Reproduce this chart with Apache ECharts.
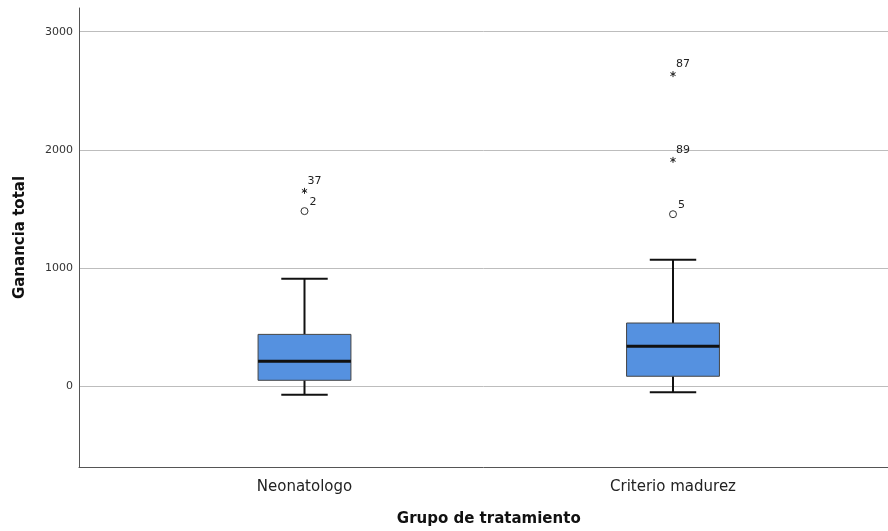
<!DOCTYPE html>
<html>
<head>
<meta charset="utf-8">
<script src="https://cdn.jsdelivr.net/npm/echarts@6/dist/echarts.min.js"></script>
<style>html,body{margin:0;padding:0;background:#fff}#c{width:888px;height:531px}</style>
</head>
<body>
<div id="c"></div>
<script>
const categories = ['Neonatologo', 'Criterio madurez'];
const whiskerLow = [-70, -48];
const q1 = [53, 87];
const median = [214, 340];
const q3 = [441, 537];
const whiskerHigh = [911, 1072];
const outlierCircles = [[0, 1483, '2'], [1, 1457, '5']];
const outlierStars = [[0, 1654, '37'], [1, 2641, '87'], [1, 1916, '89']];
const yTicks = [0, 1000, 2000, 3000];

const FONT = '"DejaVu Sans", sans-serif';
const boxData = categories.map((c, i) => [i, whiskerLow[i], q1[i], median[i], q3[i], whiskerHigh[i]]);

const chart = echarts.init(document.getElementById('c'), null, {renderer: 'canvas'});
chart.setOption({
  animation: false,
  backgroundColor: '#fff',
  grid: [
    {left: 79, right: 0, top: 8, bottom: 64, containLabel: false, outerBoundsMode: 'none'},
    {left: 120.25, right: 30.75, top: 8, bottom: 64, containLabel: false, outerBoundsMode: 'none'}
  ],
  xAxis: [
    {gridIndex: 0, type: 'value', min: 0, max: 1, position: 'bottom',
     axisLine: {show: true, onZero: false, lineStyle: {color: '#555', width: 1}},
     axisTick: {show: false}, axisLabel: {show: false}, splitLine: {show: false}},
    {gridIndex: 1, type: 'category', data: categories, position: 'bottom',
     axisLine: {show: false, onZero: false}, axisTick: {show: false},
     axisLabel: {fontFamily: FONT, fontSize: 15, color: '#222', margin: 13},
     name: 'Grupo de tratamiento', nameLocation: 'middle', nameGap: 45,
     nameTextStyle: {fontFamily: FONT, fontSize: 15, fontWeight: 'bold', color: '#111'}}
  ],
  yAxis: [
    {gridIndex: 0, type: 'value', min: -680, max: 3200,
     axisLine: {show: true, onZero: false, lineStyle: {color: '#555', width: 1}},
     axisTick: {show: false, customValues: yTicks},
     axisLabel: {customValues: yTicks, formatter: v => String(v), fontFamily: FONT, fontSize: 11, color: '#333', margin: 6},
     splitLine: {show: true, lineStyle: {color: '#bdbdbd', width: 1}},
     name: 'Ganancia total', nameLocation: 'middle', nameRotate: 90, nameGap: 51,
     nameTextStyle: {fontFamily: FONT, fontSize: 15, fontWeight: 'bold', color: '#111'}},
    {gridIndex: 1, type: 'value', min: -680, max: 3200,
     axisLine: {show: false}, axisTick: {show: false}, axisLabel: {show: false}, splitLine: {show: false}}
  ],
  series: [
    {
      type: 'custom', xAxisIndex: 1, yAxisIndex: 1,
      data: boxData,
      encode: {x: 0, y: [1, 2, 3, 4, 5]},
      renderItem: function (params, api) {
        const i = api.value(0);
        const band = api.size([1, 0])[0];
        const bw = band * 0.252;
        const cw = bw / 2;
        const x = api.coord([i, api.value(3)])[0];
        const yLow = api.coord([i, api.value(1)])[1];
        const yQ1 = api.coord([i, api.value(2)])[1];
        const yMed = api.coord([i, api.value(3)])[1];
        const yQ3 = api.coord([i, api.value(4)])[1];
        const yHigh = api.coord([i, api.value(5)])[1];
        const line = (x1, y1, x2, y2, w) => ({type: 'line', shape: {x1, y1, x2, y2}, style: {stroke: '#111', lineWidth: w}});
        return {type: 'group', children: [
          line(x, yHigh, x, yQ3, 2),
          line(x, yQ1, x, yLow, 2),
          line(x - cw / 2, yHigh, x + cw / 2, yHigh, 2),
          line(x - cw / 2, yLow, x + cw / 2, yLow, 2),
          {type: 'rect', shape: {x: x - bw / 2, y: yQ3, width: bw, height: yQ1 - yQ3},
           style: {fill: '#5591e0', stroke: '#444', lineWidth: 1}},
          line(x - bw / 2, yMed, x + bw / 2, yMed, 3)
        ]};
      }
    },
    {
      type: 'custom', xAxisIndex: 1, yAxisIndex: 1,
      data: outlierCircles,
      encode: {x: 0, y: 1},
      renderItem: function (params, api) {
        const p = api.coord([api.value(0), api.value(1)]);
        return {type: 'group', children: [
          {type: 'circle', shape: {cx: p[0], cy: p[1], r: 3.5}, style: {fill: '#fff', stroke: '#333', lineWidth: 1}},
          {type: 'text', style: {text: outlierCircles[params.dataIndex][2], x: p[0] + 5, y: p[1] - 9,
            fontFamily: FONT, fontSize: 11, fill: '#222', verticalAlign: 'middle', align: 'left'}}
        ]};
      }
    },
    {
      type: 'custom', xAxisIndex: 1, yAxisIndex: 1,
      data: outlierStars,
      encode: {x: 0, y: 1},
      renderItem: function (params, api) {
        const p = api.coord([api.value(0), api.value(1)]);
        const r = 3;
        const kids = [];
        for (let k = 0; k < 3; k++) {
          const a = Math.PI / 2 + k * Math.PI / 3;
          kids.push({type: 'line', shape: {x1: p[0] - r * Math.cos(a), y1: p[1] - r * Math.sin(a), x2: p[0] + r * Math.cos(a), y2: p[1] + r * Math.sin(a)},
            style: {stroke: '#222', lineWidth: 1}});
        }
        kids.push({type: 'text', style: {text: outlierStars[params.dataIndex][2], x: p[0] + 3, y: p[1] - 10,
          fontFamily: FONT, fontSize: 11, fill: '#222', verticalAlign: 'middle', align: 'left'}});
        return {type: 'group', children: kids};
      }
    }
  ]
});
</script>
</body>
</html>
